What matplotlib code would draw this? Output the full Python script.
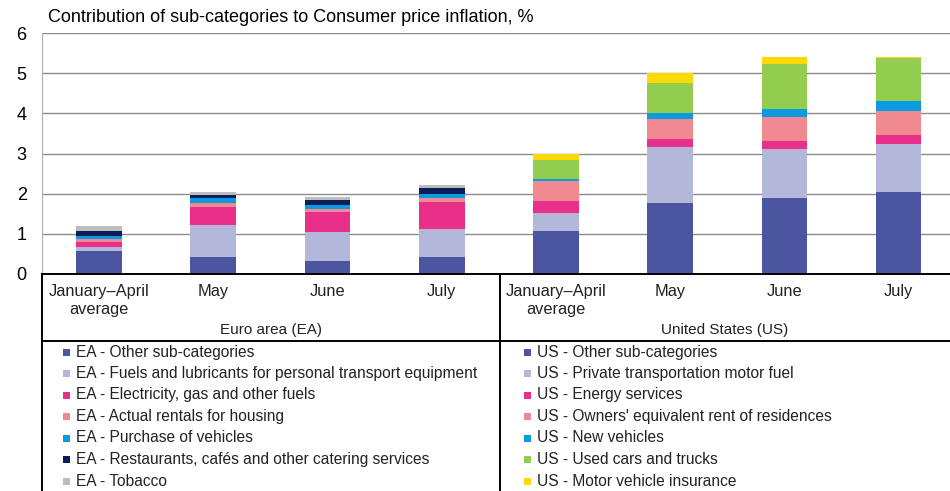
import numpy as np
import matplotlib
matplotlib.use('Agg')
import matplotlib.pyplot as plt
from matplotlib.lines import Line2D
from matplotlib.patches import Rectangle

plt.rcParams['font.family'] = ['Liberation Sans', 'DejaVu Sans']

# data
periods = ["January\u2013April\naverage", "May", "June", "July"]
groups = ["Euro area (EA)", "United States (US)"]

ea_labels = ["EA - Other sub-categories",
             "EA - Fuels and lubricants for personal transport equipment",
             "EA - Electricity, gas and other fuels",
             "EA - Actual rentals for housing",
             "EA - Purchase of vehicles",
             "EA - Restaurants, caf\u00e9s and other catering services",
             "EA - Tobacco"]
us_labels = ["US - Other sub-categories",
             "US - Private transportation motor fuel",
             "US - Energy services",
             "US - Owners' equivalent rent of residences",
             "US - New vehicles",
             "US - Used cars and trucks",
             "US - Motor vehicle insurance"]

# one row per sub-category, columns = Jan-Apr avg, May, June, July
ea_values = [
    [0.58, 0.43, 0.33, 0.42],
    [0.10, 0.78, 0.71, 0.69],
    [0.11, 0.46, 0.50, 0.68],
    [0.09, 0.11, 0.08, 0.09],
    [0.07, 0.10, 0.11, 0.12],
    [0.12, 0.08, 0.10, 0.13],
    [0.13, 0.09, 0.08, 0.08],
]
us_values = [
    [1.08, 1.76, 1.88, 2.04],
    [0.43, 1.41, 1.24, 1.19],
    [0.31, 0.18, 0.20, 0.24],
    [0.49, 0.52, 0.59, 0.58],
    [0.05, 0.13, 0.19, 0.25],
    [0.49, 0.76, 1.13, 1.09],
    [0.13, 0.25, 0.18, 0.01],
]

ea_colors = ['#4B55A0', '#B3B8DA', '#E8308A', '#F08A90', '#0A9AE0', '#0A1E5A', '#BDBDBD']
us_colors = ['#4B55A0', '#B3B8DA', '#E8308A', '#F08A90', '#0A9AE0', '#92CD50', '#FFDA00']

W, H = 950, 491
fig = plt.figure(figsize=(W / 100, H / 100), dpi=100)


def fx(x):
    return x / W


def fy(y):
    return 1 - y / H


ax = fig.add_axes([fx(42), fy(274), fx(950) - fx(42), fy(33) - fy(274)])

n = len(periods)
x_ea = np.arange(n)
x_us = np.arange(n) + n
width = 0.4

bottom = np.zeros(n)
for vals, col in zip(ea_values, ea_colors):
    ax.bar(x_ea, vals, width, bottom=bottom, color=col, edgecolor='none', zorder=3)
    bottom += np.array(vals)

bottom = np.zeros(n)
for vals, col in zip(us_values, us_colors):
    ax.bar(x_us, vals, width, bottom=bottom, color=col, edgecolor='none', zorder=3)
    bottom += np.array(vals)

ax.set_xlim(-0.5, 7.45)
ax.set_ylim(0, 6)
ax.set_yticks(range(0, 7))
ax.yaxis.grid(True, color='#8C8C8C', linewidth=1.0, zorder=0)
ax.set_axisbelow(True)
ax.tick_params(axis='y', length=0, pad=11, labelsize=13)
for s in ['top', 'right', 'bottom']:
    ax.spines[s].set_visible(False)
ax.spines['left'].set_color('#B0B0B0')
ax.spines['left'].set_linewidth(0.8)

ax.set_xticks(np.concatenate([x_ea, x_us]))
ax.set_xticklabels(periods * 2, fontsize=11.8, linespacing=1.3, color='#222222')
ax.tick_params(axis='x', length=0, pad=7)

# title
fig.text(fx(48), fy(18), "Contribution of sub-categories to Consumer price inflation, %",
         fontsize=13, va='center', ha='left')

# table frame below axis
lw = 1.4
for (x0, y0, x1, y1) in [(42, 274, 950, 274), (42, 341, 950, 341),
                         (42, 274, 42, 491), (500, 274, 500, 491)]:
    fig.add_artist(Line2D([fx(x0), fx(x1)], [fy(y0), fy(y1)], color='black',
                          linewidth=lw, transform=fig.transFigure))

fig.text(fx(271), fy(330), groups[0], fontsize=11, ha='center', va='center', color='#222222')
fig.text(fx(725), fy(330), groups[1], fontsize=11, ha='center', va='center', color='#222222')

# legend
row_y = [352, 373.5, 395, 416.5, 438, 459.5, 481]
for labels, colors, x0 in [(ea_labels, ea_colors, 66), (us_labels, us_colors, 527)]:
    for lab, col, yy in zip(labels, colors, row_y):
        fig.add_artist(Rectangle((fx(x0 - 3.5), fy(yy + 3.5)), fx(7), 7 / H,
                                 facecolor=col, edgecolor='none', transform=fig.transFigure))
        fig.text(fx(x0 + 10), fy(yy), lab, fontsize=11.2, ha='left', va='center', color='#222222')

fig.savefig('out.png', dpi=100, facecolor='white')
